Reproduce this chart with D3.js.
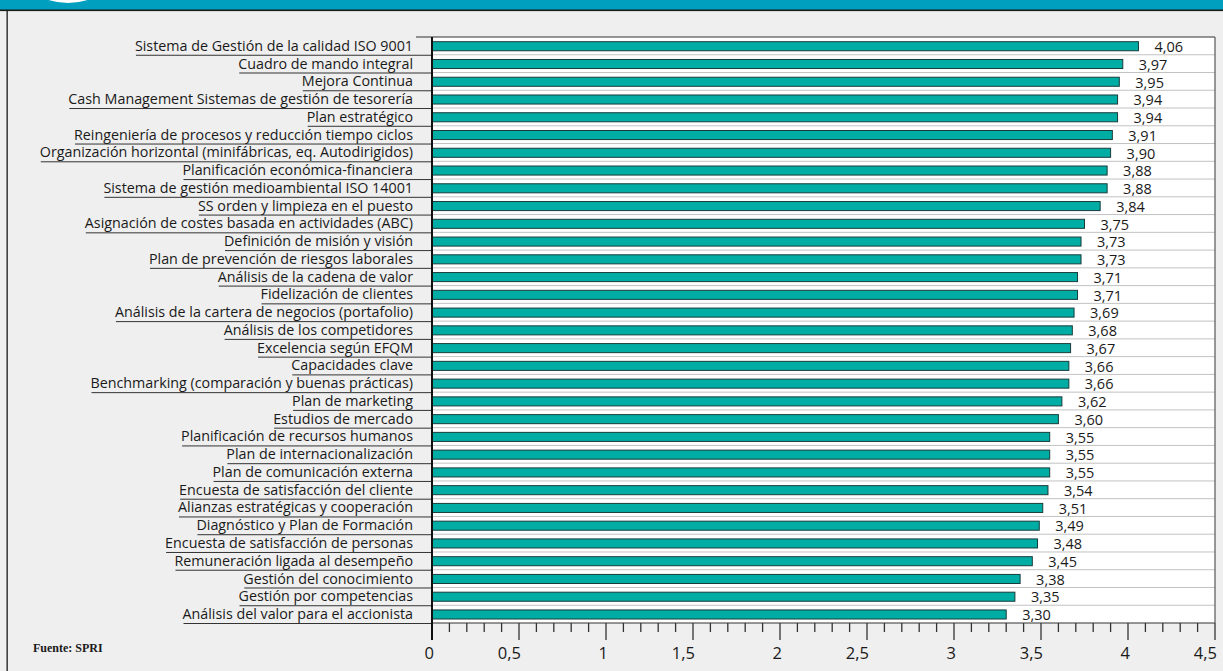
<!DOCTYPE html>
<html>
<head>
<meta charset="utf-8">
<script src="https://cdn.jsdelivr.net/npm/d3@7"></script>
<style>
  html, body { margin: 0; padding: 0; background: #efefef; }
  svg { display: block; }
</style>
</head>
<body>
<svg id="chart" width="1223" height="671"></svg>
<script>
// Herramientas de gestión y su valoración media
const categories = [
  "Sistema de Gestión de la calidad ISO 9001",
  "Cuadro de mando integral",
  "Mejora Continua",
  "Cash Management Sistemas de gestión de tesorería",
  "Plan estratégico",
  "Reingeniería de procesos y reducción tiempo ciclos",
  "Organización horizontal (minifábricas, eq. Autodirigidos)",
  "Planificación económica-financiera",
  "Sistema de gestión medioambiental ISO 14001",
  "SS orden y limpieza en el puesto",
  "Asignación de costes basada en actividades (ABC)",
  "Definición de misión y visión",
  "Plan de prevención de riesgos laborales",
  "Análisis de la cadena de valor",
  "Fidelización de clientes",
  "Análisis de la cartera de negocios (portafolio)",
  "Análisis de los competidores",
  "Excelencia según EFQM",
  "Capacidades clave",
  "Benchmarking (comparación y buenas prácticas)",
  "Plan de marketing",
  "Estudios de mercado",
  "Planificación de recursos humanos",
  "Plan de internacionalización",
  "Plan de comunicación externa",
  "Encuesta de satisfacción del cliente",
  "Alianzas estratégicas y cooperación",
  "Diagnóstico y Plan de Formación",
  "Encuesta de satisfacción de personas",
  "Remuneración ligada al desempeño",
  "Gestión del conocimiento",
  "Gestión por competencias",
  "Análisis del valor para el accionista"
];
const values = [
  4.06, 3.97, 3.95, 3.94, 3.94, 3.91, 3.90, 3.88, 3.88, 3.84,
  3.75, 3.73, 3.73, 3.71, 3.71, 3.69, 3.68, 3.67, 3.66, 3.66,
  3.62, 3.60, 3.55, 3.55, 3.55, 3.54, 3.51, 3.49, 3.48, 3.45,
  3.38, 3.35, 3.30
];
const majorTicks = [0, 0.5, 1, 1.5, 2, 2.5, 3, 3.5, 4, 4.5];
const minorTicks = d3.range(0, 46).map(i => i / 10);
const source = "Fuente: SPRI";

const es = d3.formatLocale({ decimal: ",", thousands: ".", grouping: [3], currency: ["", " €"] });
const fmtValue = es.format(".2f");
const fmtTick = es.format("~f");

const data = categories.map((c, i) => ({ name: c, value: values[i] }));

const svg = d3.select("#chart");
const W = 1223, H = 671;

// Header band
const teal = "#009fbf";
const defs = svg.append("defs");
defs.append("clipPath").attr("id", "hdr").append("rect")
  .attr("x", 0).attr("y", 0).attr("width", W).attr("height", 10);
svg.append("rect").attr("x", 0).attr("y", 0).attr("width", W).attr("height", 10).attr("fill", teal);
svg.append("circle").attr("clip-path", "url(#hdr)")
  .attr("cx", 68).attr("cy", -62).attr("r", 65).attr("fill", "#ffffff");
svg.append("rect").attr("x", 0).attr("y", 9.5).attr("width", W).attr("height", 1.6).attr("fill", "#1a1a1a");

// Frame
svg.append("rect").attr("x", 6.5).attr("y", 10).attr("width", 1.3).attr("height", H - 10).attr("fill", "#1a1a1a");

// Plot geometry
const x0 = 432, x1 = 1215, yTop = 37, yBot = 623;
const x = d3.scaleLinear().domain([0, 4.5]).range([x0, x1]);
const y = d3.scaleBand().domain(categories).range([yTop, yBot]).padding(0);
const bw = y.bandwidth();

// Plot background
svg.append("rect").attr("x", x0).attr("y", yTop).attr("width", x1 - x0).attr("height", yBot - yTop)
  .attr("fill", "#ffffff");

// Row separators inside plot
svg.append("g").selectAll("line").data(categories.slice(0, -1)).join("line")
  .attr("x1", x0).attr("x2", x1)
  .attr("y1", d => y(d) + bw).attr("y2", d => y(d) + bw)
  .attr("stroke", "#c2c2c2").attr("stroke-width", 1);

// Bars
svg.append("g").selectAll("rect").data(data).join("rect")
  .attr("x", x(0))
  .attr("y", d => y(d.name) + bw * 0.265)
  .attr("width", d => x(d.value) - x(0))
  .attr("height", bw * 0.51)
  .attr("fill", "#00ada5")
  .attr("stroke", "#183c3a")
  .attr("stroke-width", 1);

// Value labels
svg.append("g").selectAll("text").data(data).join("text")
  .attr("x", d => x(d.value) + 16)
  .attr("y", d => y(d.name) + 15)
  .attr("font-family", "'Open Sans', sans-serif")
  .attr("font-size", 14.5)
  .attr("fill", "#1a1a1a")
  .text(d => fmtValue(d.value));

// Category labels with underline rules
const labelG = svg.append("g");
const labels = labelG.selectAll("text").data(data).join("text")
  .attr("x", 413)
  .attr("y", d => y(d.name) + 13.8)
  .attr("text-anchor", "end")
  .attr("font-family", "'Open Sans', sans-serif")
  .attr("font-size", 14.3)
  .attr("fill", "#1a1a1a")
  .text(d => d.name);
labels.each(function(d) {
  const b = this.getBBox();
  labelG.append("line")
    .attr("x1", b.x + 1).attr("x2", x0)
    .attr("y1", y(d.name) + bw + 0.5).attr("y2", y(d.name) + bw + 0.5)
    .attr("stroke", "#333333").attr("stroke-width", 1);
});
svg.append("line").attr("x1", 416).attr("x2", x1).attr("y1", yTop).attr("y2", yTop)
  .attr("stroke", "#333333").attr("stroke-width", 1.2);

// Plot borders
svg.append("line").attr("x1", x0).attr("x2", x1).attr("y1", yBot).attr("y2", yBot)
  .attr("stroke", "#333333").attr("stroke-width", 1.2);
svg.append("line").attr("x1", x1).attr("x2", x1).attr("y1", yTop).attr("y2", yBot)
  .attr("stroke", "#555555").attr("stroke-width", 1.2);

// Axis ticks
const axisG = svg.append("g");
axisG.selectAll("line.minor").data(minorTicks.filter(t => Math.round(t * 10) % 5 !== 0)).join("line")
  .attr("class", "minor")
  .attr("x1", d => x(d)).attr("x2", d => x(d))
  .attr("y1", yBot).attr("y2", yBot + 9)
  .attr("stroke", "#333333").attr("stroke-width", 1.3);
axisG.selectAll("line.major").data(majorTicks).join("line")
  .attr("class", "major")
  .attr("x1", d => x(d)).attr("x2", d => x(d))
  .attr("y1", yBot).attr("y2", yBot + 17)
  .attr("stroke", "#333333").attr("stroke-width", 1.3);
axisG.selectAll("text").data(majorTicks).join("text")
  .attr("x", d => x(d) + 2)
  .attr("y", 659)
  .attr("text-anchor", "end")
  .attr("font-family", "'Open Sans', sans-serif")
  .attr("font-size", 16.5)
  .attr("fill", "#1a1a1a")
  .text(d => fmtTick(d));

// Value axis line
svg.append("line").attr("x1", x0).attr("x2", x0).attr("y1", yTop).attr("y2", yBot + 17)
  .attr("stroke", "#111111").attr("stroke-width", 2);

// Source note
svg.append("text").attr("x", 33).attr("y", 652)
  .attr("font-family", "'Liberation Serif', 'Times New Roman', serif")
  .attr("font-weight", "bold")
  .attr("font-size", 12)
  .attr("fill", "#1a1a1a")
  .text(source);
</script>
</body>
</html>
